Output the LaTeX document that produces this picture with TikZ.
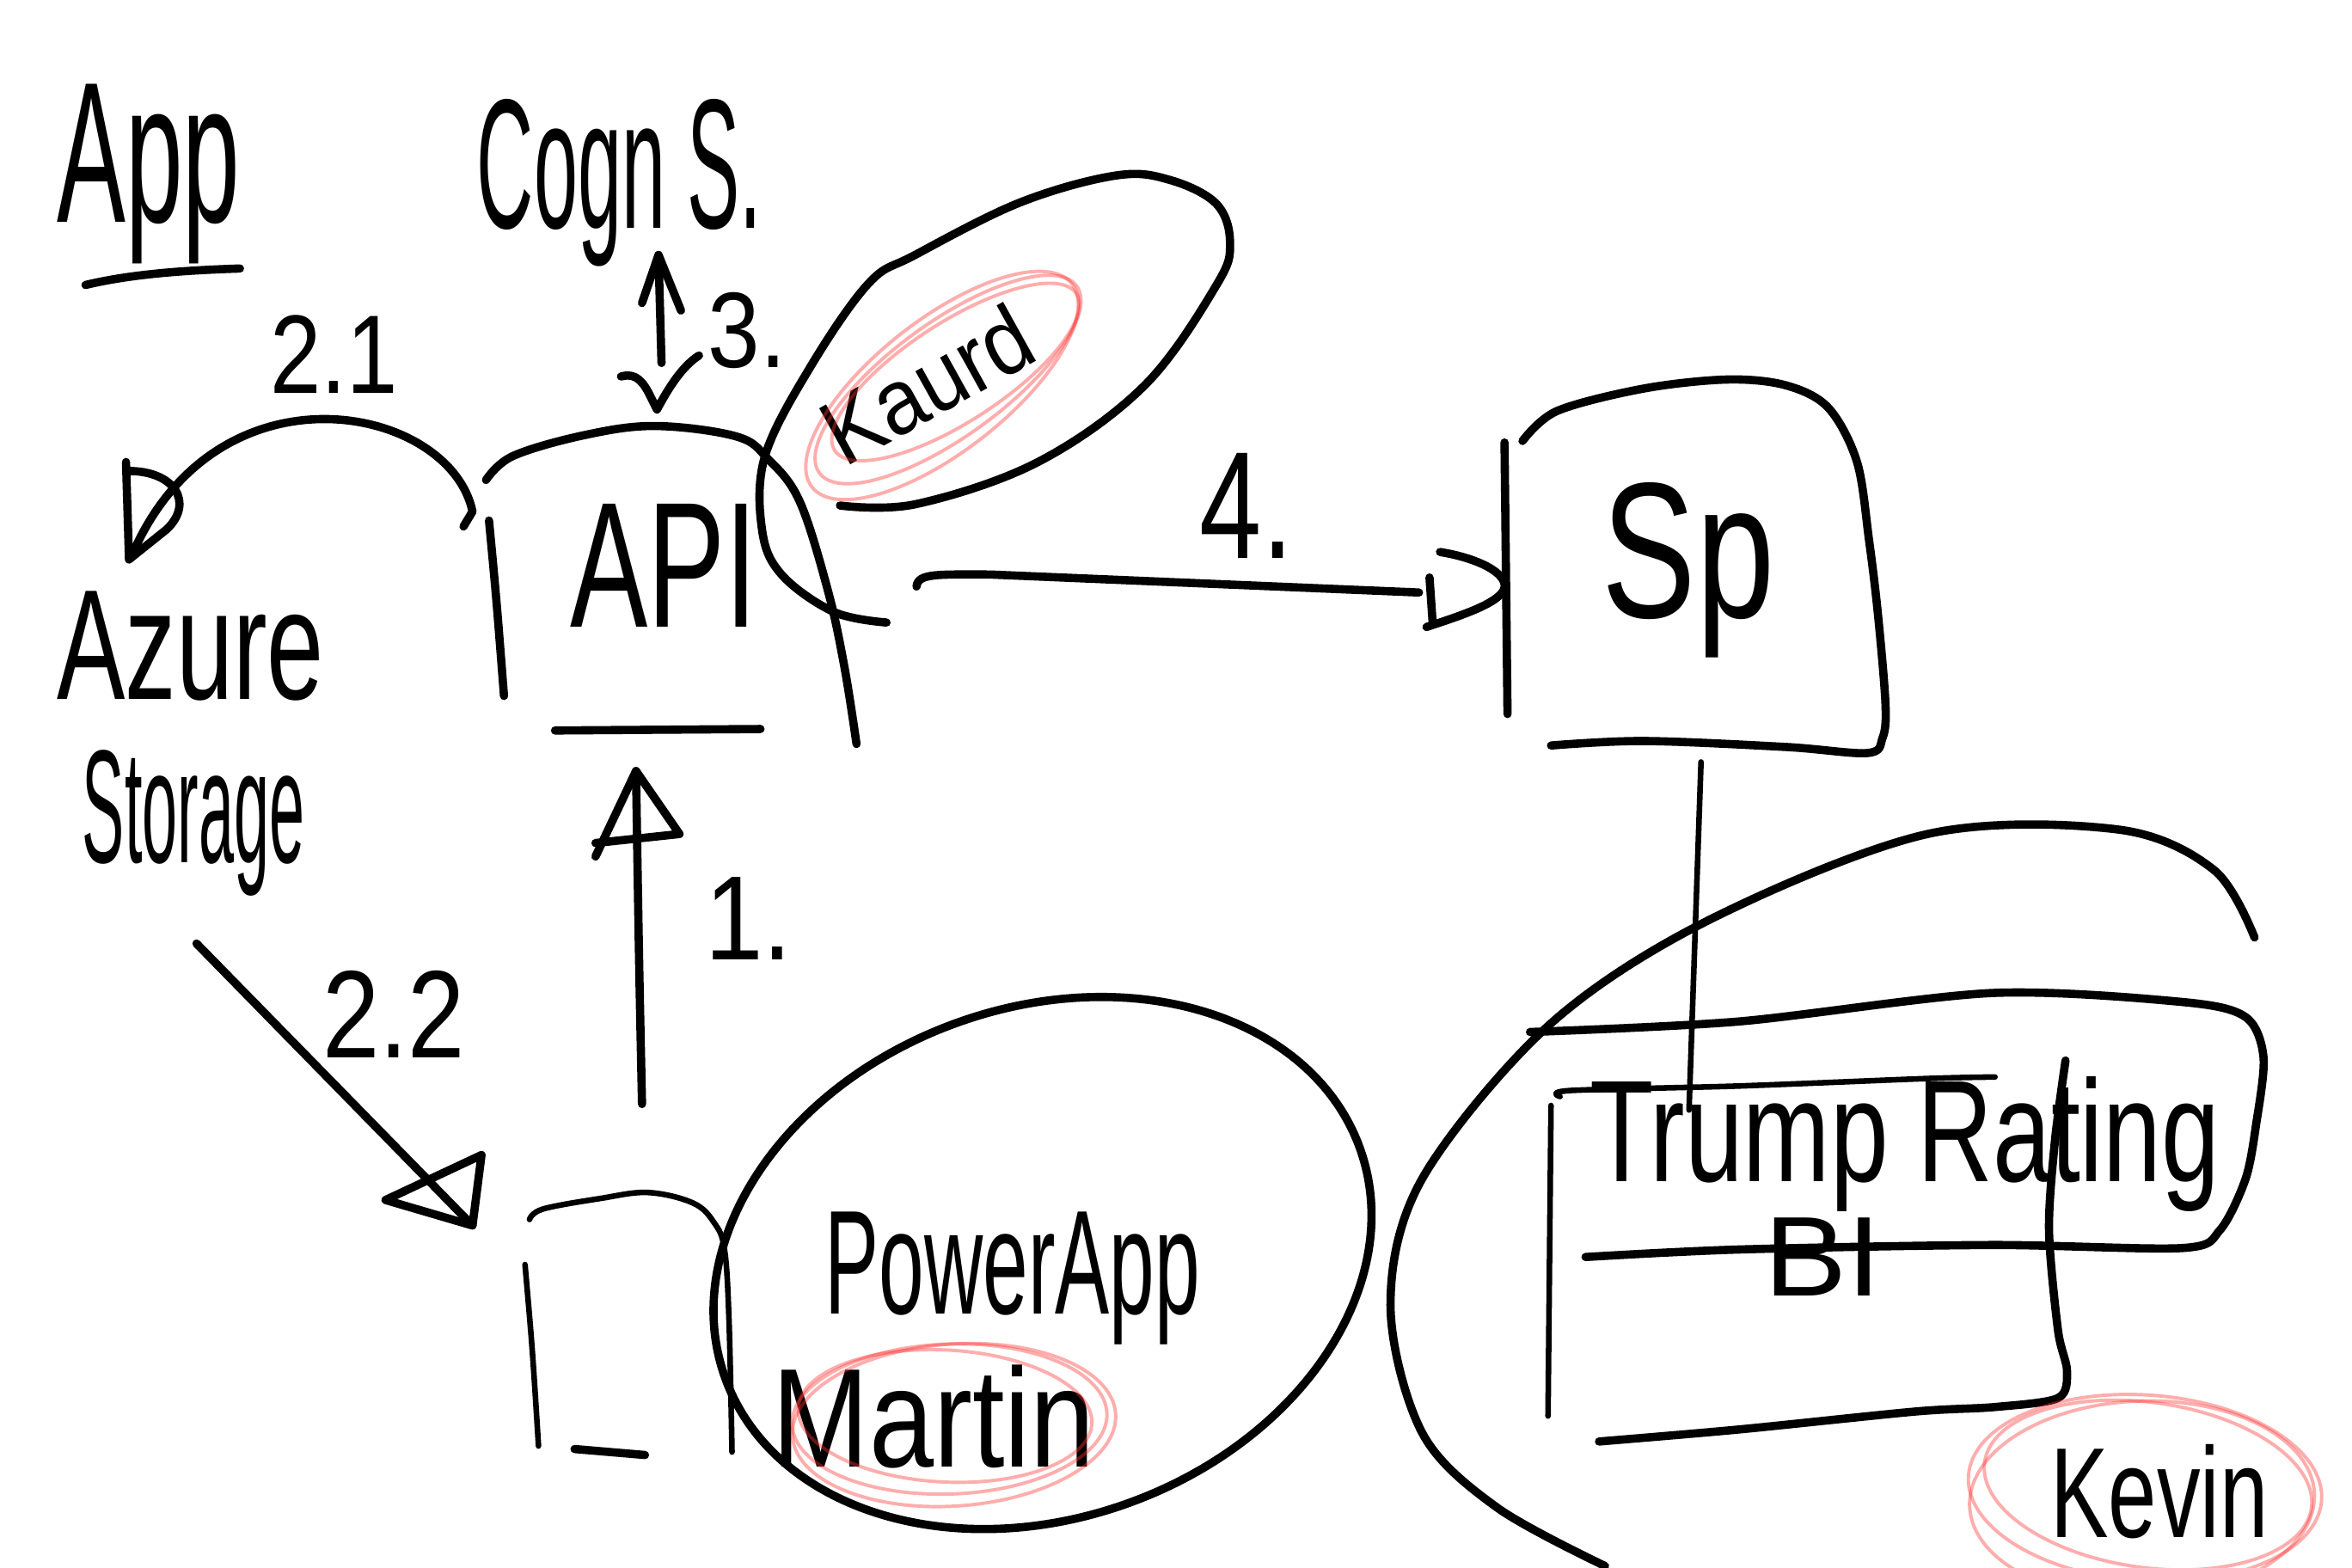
\documentclass[tikz,border=0pt]{standalone}
\usepackage{fontspec}
\setmainfont{Liberation Sans}
\usepackage{graphicx}
\newlength{\hwu}\setlength{\hwu}{0.2mm}
\newcommand{\hw}[3]{\resizebox{#1\hwu}{#2\hwu}{#3}}
\tikzset{
  ink/.style={line width=1.1mm, line cap=round, line join=round, black},
  fineink/.style={line width=0.75mm, line cap=round, line join=round, black},
  pencil/.style={line width=0.45mm, draw=red!80, opacity=0.4},
  lbl/.style={anchor=base west, inner sep=0pt, outer sep=0pt},
}
\begin{document}
\begin{tikzpicture}[x=0.2mm,y=-0.2mm]
\useasboundingbox (0,0) rectangle (1568,1045);
\fill[white] (0,0) rectangle (1568,1045);

% ---------- texts ----------
\node[lbl] (app) at (38,148) {\hw{122}{92}{App}};
\node[lbl] (cogn) at (318,152) {\hw{190}{86}{Cogn S.}};
\node[lbl] (api) at (380,418) {\hw{125}{82}{API}};
\node[lbl] (l21) at (180,262) {\hw{85}{52}{2.1}};
\node[lbl] (l3) at (472,245) {\hw{52}{50}{3.}};
\node[lbl] (azure) at (38,466) {\hw{178}{72}{Azure}};
\node[lbl] (storage) at (55,575) {\hw{148}{75}{Storage}};
\node[lbl] (l22) at (215,705) {\hw{95}{58}{2.2}};
\node[lbl] (l1) at (470,640) {\hw{58}{55}{1.}};
\node[lbl] (l4) at (800,372) {\hw{62}{70}{4.}};
\node[lbl] (sp) at (1068,412) {\hw{115}{90}{Sp}};
\node[lbl] (trump) at (1060,788) {\hw{420}{70}{Trump Rating}};
\node[lbl] (bi) at (1176,864) {\hw{78}{52}{BI}};
\node[lbl] (powerapp) at (550,876) {\hw{250}{68}{PowerApp}};
\node[lbl] (martin) at (515,978) {\hw{215}{68}{Martin}};
\node[lbl] (kevin) at (1367,1025) {\hw{145}{62}{Kevin}};
\node[anchor=center, inner sep=0pt, rotate=29] (kaurd) at (618,256) {\hw{150}{45}{Kaurd}};

% ---------- App underline ----------
\draw[ink] (57,190) .. controls (90,182) and (130,180) .. (160,179);

% ---------- API shape ----------
\draw[ink] plot[smooth, tension=0.6] coordinates {(324,320) (342,304) (390,290) (437,284) (491,291) (512,306) (533,334) (552,394) (563,445) (571,496)};
\draw[ink] (326,347) .. controls (331,400) .. (336,464);
\draw[ink] (370,487) -- (507,486);

% ---------- Kaurd ellipse ----------
\draw[ink] plot[smooth, tension=0.6] coordinates {(560,337) (611,336) (692,308) (763,257) (811,190) (820,162) (811,136) (780,120) (744,117) (680,135) (610,170) (579,189) (540,245) (510,304) (508,353) (521,383) (556,408) (591,415)};
\draw[pencil, rotate around={36:(632,253)}] (632,253) ellipse [x radius=106, y radius=38];
\draw[pencil, rotate around={33:(637,248)}] (637,248) ellipse [x radius=96, y radius=33];
\draw[pencil, rotate around={38:(628,257)}] (628,257) ellipse [x radius=110, y radius=44];

% ---------- arrow 2.1 ----------
\coordinate (a21s) at (315,341);
\coordinate (a21e) at (88,370);
\draw[ink] (309,351) -- (a21s) .. controls (300,270) and (145,238) .. (a21e);
\draw[ink] (84,308) -- (86,373) -- (111,353) .. controls (130,335) and (116,314) .. (86,314);

% ---------- arrow 3 ----------
\coordinate (a3b) at (441,242);
\coordinate (a3t) at (439,170);
\draw[ink] (a3b) -- (a3t);
\draw[ink] (428,202) -- (a3t) -- (454,207);
\draw[ink] (414,251) .. controls (428,247) and (432,262) .. (438,273) .. controls (446,258) and (455,244) .. (466,237);

% ---------- arrow 2.2 ----------
\coordinate (a22s) at (131,629);
\coordinate (a22e) at (315,817);
\draw[ink] (a22s) -- (a22e);
\draw[ink] (a22e) -- (257,800) -- (321,770) -- cycle;

% ---------- arrow 1 ----------
\coordinate (a1s) at (428,736);
\coordinate (a1e) at (424,514);
\draw[ink] (a1s) .. controls (426,640) .. (a1e);
\draw[ink] (397,571) -- (a1e) -- (453,556) -- (397,562);

% ---------- arrow 4 ----------
\coordinate (a4s) at (611,391);
\coordinate (a4e) at (946,395);
\draw[ink] (a4s) .. controls (612,382) and (625,383) .. (660,383) -- (a4e);
\draw[ink] (953,385) -- (955,414);
\draw[ink] (960,368) .. controls (985,372) and (1005,382) .. (1003,392) .. controls (1000,402) and (975,410) .. (951,418);

% ---------- Sp box ----------
\draw[ink] (1003,295) -- (1005,476);
\draw[ink] plot[smooth, tension=0.55] coordinates {(1015,294) (1038,274) (1096,259) (1152,253) (1191,257) (1219,272) (1238,308) (1246,360) (1252,410) (1257,470) (1255,492) (1245,502) (1191,498) (1096,494) (1034,497)};

% ---------- Sp to box connector ----------
\coordinate (sptop) at (1134,508);
\coordinate (spbot) at (1126,740);
\draw[fineink] (sptop) -- (spbot);

% ---------- bowl ----------
\draw[ink] plot[smooth, tension=0.55] coordinates {(1503,625) (1476,580) (1412,553) (1285,556) (1138,614) (1032,684) (948,786) (927,870) (948,955) (998,1005) (1070,1044)};

% ---------- Trump Rating box ----------
\draw[ink] plot[smooth, tension=0.5] coordinates {(1020,688) (1159,681) (1328,662) (1455,668) (1497,678) (1509,705) (1504,750) (1497,786) (1480,820) (1455,832) (1328,830) (1159,833) (1057,838)};
\draw[fineink] (1034,737) -- (1032,944);
\draw[fineink] plot[smooth, tension=0.5] coordinates {(1040,731) (1047,727) (1159,724) (1285,719) (1330,718)};
\draw[ink] plot[smooth, tension=0.5] coordinates {(1377,707) (1370,760) (1366,820) (1372,887) (1378,914) (1372,932) (1330,938) (1277,941) (1159,953) (1066,961)};

% ---------- PowerApp ----------
\draw[ink, rotate around={20:(695,842)}] (695,842) ellipse [x radius=225, y radius=170];
\draw[fineink] plot[smooth, tension=0.6] coordinates {(353,813) (362,806) (400,799) (432,795) (462,802) (476,815) (483,833) (486,880) (488,968)};
\draw[fineink] (350,843) .. controls (355,900) .. (359,964);
\draw[ink] (383,966) -- (430,970);
\draw[pencil, rotate around={2:(633,946)}] (633,946) ellipse [x radius=105, y radius=50];
\draw[pencil, rotate around={-3:(630,944)}] (630,944) ellipse [x radius=98, y radius=44];
\draw[pencil, rotate around={4:(636,950)}] (636,950) ellipse [x radius=108, y radius=54];

% ---------- Kevin ----------
\begin{scope}
\clip (0,0) rectangle (1568,1045);
\draw[pencil, rotate around={-4:(1430,992)}] (1430,992) ellipse [x radius=118, y radius=62];
\draw[pencil, rotate around={-8:(1432,990)}] (1432,990) ellipse [x radius=110, y radius=55];
\draw[pencil, rotate around={2:(1428,1000)}] (1428,1000) ellipse [x radius=115, y radius=66];
\end{scope}
\end{tikzpicture}
\end{document}
